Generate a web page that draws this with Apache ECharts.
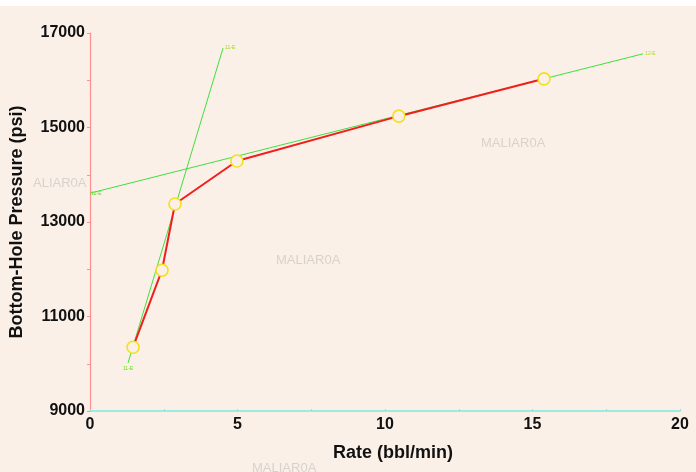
<!DOCTYPE html>
<html>
<head>
<meta charset="utf-8">
<script src="https://cdn.jsdelivr.net/npm/echarts@6/dist/echarts.min.js"></script>
<style>
  html, body { margin: 0; padding: 0; background: #ffffff; }
  #chart { width: 696px; height: 472px; }
</style>
</head>
<body>
<div id="chart"></div>
<script>
// Step-rate test: measured bottom-hole pressure vs injection rate
const rate = [1.46, 2.44, 2.88, 4.98, 10.47, 15.39];
const bhp = [10350, 11980, 13380, 14290, 15240, 16030];

// Straight-line fits below and above the break
const fitLowRate = [1.29, 4.51];
const fitLowBhp = [10020, 16680];
const fitHighRate = [0, 18.75];
const fitHighBhp = [13610, 16560];
const fitLowNames = ['11-E', '11-E'];
const fitHighNames = ['12-E', '12-E'];

// Axis ticks
const xMin = 0, xMax = 20, xStep = 2.5;
const yMin = 9000, yMax = 17000, yStep = 1000;
const xTickLabels = [0, 5, 10, 15, 20];
const yTickLabels = [9000, 11000, 13000, 15000, 17000];

const pairs = (xs, ys) => xs.map((x, i) => [x, ys[i]]);

const chart = echarts.init(document.getElementById('chart'), null, { renderer: 'canvas' });

const stamp = (x, y, txt) => ({
  type: 'text', left: x, top: y, silent: true, z: 0,
  style: { text: txt || 'MALIAR0A', fill: '#d9d2cc', font: '13px "Liberation Sans", Arial, sans-serif' }
});

const FONT = '"Liberation Sans", Arial, sans-serif';

chart.setOption({
  backgroundColor: '#fbf0e8',
  animation: false,
  graphic: [
    { type: 'rect', left: 0, top: 0, shape: { width: 696, height: 6 }, style: { fill: '#ffffff' }, silent: true },
    stamp(481, 137),
    stamp(276, 254),
    stamp(33, 177, 'ALIAR0A'),
    stamp(252, 462)
  ],
  grid: { left: 90, right: 16, top: 33, bottom: 61 },
  xAxis: {
    type: 'value', min: xMin, max: xMax, interval: xStep,
    splitLine: { show: false },
    axisLine: { lineStyle: { color: '#7ee9e1', width: 1.5 } },
    axisTick: { show: true, inside: true, length: 2, lineStyle: { color: '#7ee9e1' } },
    axisLabel: {
      margin: 6, color: '#111', fontWeight: 'bold', fontSize: 16, fontFamily: FONT,
      formatter: v => (xTickLabels.includes(v) ? String(v) : '')
    },
    name: 'Rate (bbl/min)', nameLocation: 'middle', nameGap: 33,
    nameTextStyle: { color: '#111', fontWeight: 'bold', fontSize: 18, fontFamily: FONT, padding: [0, 0, 0, 16] }
  },
  yAxis: {
    type: 'value', min: yMin, max: yMax, interval: yStep,
    splitLine: { show: false },
    axisLine: { show: true, lineStyle: { color: '#ff9090', width: 1.2 } },
    axisTick: { show: true, length: 3, lineStyle: { color: '#ff9090' } },
    axisLabel: {
      margin: 5, color: '#111', fontWeight: 'bold', fontSize: 16, fontFamily: FONT,
      formatter: v => (yTickLabels.includes(v) ? String(v) : '')
    },
    name: 'Bottom-Hole Pressure (psi)', nameLocation: 'middle', nameGap: 64,
    nameTextStyle: { color: '#111', fontWeight: 'bold', fontSize: 18, fontFamily: FONT }
  },
  series: [
    {
      type: 'line', data: pairs(fitLowRate, fitLowBhp), symbol: 'none', z: 2,
      lineStyle: { color: '#3fe03f', width: 1 },
      markPoint: {
        symbol: 'circle', symbolSize: 0,
        data: [
          { coord: [fitLowRate[0], fitLowBhp[0]], label: { show: true, formatter: fitLowNames[0], fontSize: 5, color: '#6cdc20', position: 'bottom', distance: 3 } },
          { coord: [fitLowRate[1], fitLowBhp[1]], label: { show: true, formatter: fitLowNames[1], fontSize: 5, color: '#9cd820', position: 'right', distance: 2 } }
        ]
      }
    },
    {
      type: 'line', data: pairs(fitHighRate, fitHighBhp), symbol: 'none', z: 2,
      lineStyle: { color: '#3fe03f', width: 1 },
      markPoint: {
        symbol: 'circle', symbolSize: 0,
        data: [
          { coord: [fitHighRate[0], fitHighBhp[0]], label: { show: true, formatter: fitHighNames[0], fontSize: 5, color: '#6cdc20', position: 'right', distance: 1 } },
          { coord: [fitHighRate[1], fitHighBhp[1]], label: { show: true, formatter: fitHighNames[1], fontSize: 5, color: '#b8d820', position: 'right', distance: 2 } }
        ]
      }
    },
    {
      type: 'line', data: pairs(rate, bhp), z: 3,
      lineStyle: { color: '#f21e1e', width: 2 },
      symbol: 'circle', symbolSize: 12,
      itemStyle: { color: '#fbf0e8', borderColor: '#f2e11c', borderWidth: 1.6 }
    }
  ]
});
</script>
</body>
</html>
